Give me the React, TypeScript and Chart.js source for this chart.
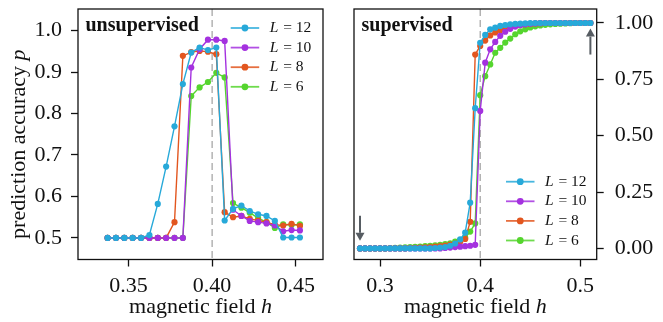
import React, { useEffect, useRef } from "react";
import { Chart, registerables } from "chart.js";
Chart.register(...registerables);

const FONT = "'Liberation Serif', 'Times New Roman', Times, serif";

// ---------- data ----------
const legendSizes = ["12", "10", "8", "6"];
const seriesColors = ["#27a9d9", "#a431df", "#e2561f", "#55d52e"];

// unsupervised panel
const unsupH = [0.3375, 0.3425, 0.3475, 0.3525, 0.3575, 0.3625, 0.3675, 0.3725, 0.3775, 0.3825, 0.3875, 0.3925,
  0.3975, 0.4025, 0.4075, 0.4125, 0.4175, 0.4225, 0.4275, 0.4325, 0.4375, 0.4425, 0.4475, 0.4525];
const unsupL12 = [0.5, 0.5, 0.5, 0.5, 0.5, 0.507, 0.582, 0.672, 0.769, 0.871, 0.947, 0.959,
  0.953, 0.959, 0.542, 0.570, 0.578, 0.565, 0.557, 0.553, 0.541, 0.501, 0.501, 0.501];
const unsupL10 = [0.5, 0.5, 0.5, 0.5, 0.5, 0.5, 0.5, 0.5, 0.5, 0.5, 0.911, 0.955,
  0.978, 0.978, 0.975, 0.568, 0.553, 0.541, 0.538, 0.535, 0.530, 0.516, 0.519, 0.518];
const unsupL8 = [0.5, 0.5, 0.5, 0.5, 0.5, 0.5, 0.5, 0.5, 0.538, 0.939, 0.948, 0.951,
  0.949, 0.943, 0.562, 0.550, 0.553, 0.546, 0.542, 0.538, 0.532, 0.530, 0.534, 0.529];
const unsupL6 = [0.5, 0.5, 0.5, 0.5, 0.5, 0.5, 0.5, 0.5, 0.5, 0.5, 0.842, 0.863,
  0.876, 0.898, 0.887, 0.584, 0.573, 0.561, 0.548, 0.538, 0.524, 0.533, 0.531, 0.533];
const unsupXTicks = [0.35, 0.4, 0.45];
const unsupYTicks = [0.5, 0.6, 0.7, 0.8, 0.9, 1.0];

// supervised panel
const supH = [0.280, 0.285, 0.290, 0.295, 0.300, 0.305, 0.310, 0.315, 0.320, 0.325, 0.330, 0.335,
  0.340, 0.345, 0.350, 0.355, 0.360, 0.365, 0.370, 0.375, 0.380, 0.385, 0.390, 0.395,
  0.400, 0.405, 0.410, 0.415, 0.420, 0.425, 0.430, 0.435, 0.440, 0.445, 0.450, 0.455,
  0.460, 0.465, 0.470, 0.475, 0.480, 0.485, 0.490, 0.495, 0.500, 0.505, 0.510];
const supL12 = [0, 0, 0, 0, 0, 0, 0, 0, 0, 0, 0, 0, 0, 0, 0,
  0.002, 0.004, 0.006, 0.012, 0.022, 0.04, 0.07, 0.203,
  0.622, 0.912, 0.947, 0.972, 0.979, 0.987, 0.991, 0.994, 0.996, 0.997, 0.998, 0.999,
  1, 1, 1, 1, 1, 1, 1, 1, 1, 1, 1, 1];
const supL10 = [0, 0, 0, 0, 0, 0, 0, 0, 0, 0, 0, 0, 0, 0, 0, 0, 0,
  0.002, 0.004, 0.006, 0.008, 0.01, 0.012, 0.016,
  0.61, 0.824, 0.883, 0.916, 0.943, 0.961, 0.974, 0.984, 0.99, 0.994, 0.997, 0.998, 0.999,
  1, 1, 1, 1, 1, 1, 1, 1, 1, 1];
const supL8 = [0, 0, 0, 0, 0, 0, 0, 0, 0, 0,
  0.002, 0.003, 0.004, 0.005, 0.006, 0.008, 0.01, 0.013, 0.017, 0.022, 0.03, 0.042, 0.118,
  0.86, 0.898, 0.922, 0.945, 0.958, 0.968, 0.976, 0.982, 0.987, 0.991, 0.994, 0.996, 0.998, 0.999,
  1, 1, 1, 1, 1, 1, 1, 1, 1, 1];
const supL6 = [0, 0, 0, 0, 0, 0,
  0.002, 0.003, 0.004, 0.005, 0.006, 0.007, 0.008, 0.01, 0.012, 0.014, 0.016, 0.019, 0.023, 0.03, 0.037, 0.048, 0.075, 0.111,
  0.68, 0.764, 0.816, 0.868, 0.89, 0.913, 0.931, 0.95, 0.963, 0.972, 0.98, 0.985, 0.989, 0.992, 0.994, 0.996, 0.997, 0.998, 0.999,
  1, 1, 1, 1];
const supXTicks = [0.3, 0.4, 0.5];
const supYTicks = [0, 0.25, 0.5, 0.75, 1.0];

const criticalH = 0.4;
const arrowH = [0.28, 0.51];
const arrowFrom = [0.145, 0.86];
const arrowTo = [0.034, 0.975];

const yTitleMain = "prediction accuracy ";
const yTitleVar = "p";
const xTitleMain = "magnetic field ";
const xTitleVar = "h";
const legendVar = "L";

// ---------- helpers ----------
function drawMixed(ctx: CanvasRenderingContext2D, x: number, y: number, main: string, v: string, size: number, center: boolean) {
  ctx.font = `${size}px ${FONT}`;
  const w1 = ctx.measureText(main).width;
  ctx.font = `italic ${size}px ${FONT}`;
  const w2 = ctx.measureText(v).width;
  const start = center ? x - (w1 + w2) / 2 : x;
  ctx.font = `${size}px ${FONT}`;
  ctx.fillText(main, start, y);
  ctx.font = `italic ${size}px ${FONT}`;
  ctx.fillText(v, start + w1, y);
}

type PanelCfg = {
  h: number[];
  series: number[][];
  xMin: number; xMax: number; yMin: number; yMax: number;
  xTicks: number[]; yTicks: number[];
  xDec: number; yDec: number;
  yPos: "left" | "right";
  width: number;
  padding: { left: number; right: number; top: number; bottom: number };
  yAxisWidth: number;
  yTickPad: number;
  label: string;
  legendFromRight: number; legendRowY: (a: any) => number;
  arrows: boolean;
  yTitle: boolean;
};

function zeroPad(s: any) {
  s.paddingTop = 0;
  s.paddingBottom = 0;
  s.paddingLeft = 0;
  s.paddingRight = 0;
}

function Panel({ cfg, left }: { cfg: PanelCfg; left: number }) {
  const ref = useRef<HTMLCanvasElement>(null);
  useEffect(() => {
    const canvas = ref.current!;
    const overlay = {
      id: "overlay",
      beforeDatasetsDraw(chart: any) {
        const ctx = chart.ctx;
        const a = chart.chartArea;
        const x = chart.scales.x.getPixelForValue(criticalH);
        ctx.save();
        ctx.strokeStyle = "#a0a0a0";
        ctx.lineWidth = 1.2;
        ctx.setLineDash([7, 4]);
        ctx.beginPath();
        ctx.moveTo(x, a.top);
        ctx.lineTo(x, a.bottom);
        ctx.stroke();
        ctx.restore();
      },
      afterDraw(chart: any) {
        const ctx = chart.ctx as CanvasRenderingContext2D;
        const a = chart.chartArea;
        ctx.save();
        // frame
        ctx.strokeStyle = "#111";
        ctx.lineWidth = 1.3;
        ctx.strokeRect(a.left, a.top, a.right - a.left, a.bottom - a.top);
        // panel label
        ctx.fillStyle = "#111";
        ctx.textBaseline = "alphabetic";
        ctx.font = `bold 20px ${FONT}`;
        ctx.fillText(cfg.label, a.left + 7.5, a.top + 22);
        // legend
        for (let i = 0; i < legendSizes.length; i++) {
          const y = cfg.legendRowY(a) + i * 19.6;
          const x0 = a.right - cfg.legendFromRight;
          ctx.strokeStyle = seriesColors[i];
          ctx.globalAlpha = 0.85;
          ctx.lineWidth = 1.8;
          ctx.beginPath();
          ctx.moveTo(x0, y);
          ctx.lineTo(x0 + 28.5, y);
          ctx.stroke();
          ctx.globalAlpha = 1;
          ctx.fillStyle = seriesColors[i];
          ctx.beginPath();
          ctx.arc(x0 + 14.25, y, 3.4, 0, Math.PI * 2);
          ctx.fill();
          ctx.fillStyle = "#111";
          ctx.textBaseline = "middle";
          ctx.font = `italic 15.5px ${FONT}`;
          ctx.fillText(legendVar, x0 + 39, y);
          const wl = ctx.measureText(legendVar).width;
          ctx.font = `15.5px ${FONT}`;
          ctx.fillText(" = " + legendSizes[i], x0 + 39 + wl + 1, y);
        }
        // x title
        ctx.fillStyle = "#111";
        ctx.textBaseline = "alphabetic";
        drawMixed(ctx, (a.left + a.right) / 2, 313, xTitleMain, xTitleVar, 22, true);
        // y title
        if (cfg.yTitle) {
          ctx.save();
          ctx.translate(25, (a.top + a.bottom) / 2 + 10);
          ctx.rotate(-Math.PI / 2);
          drawMixed(ctx, 0, 0, yTitleMain, yTitleVar, 22, true);
          ctx.restore();
        }
        // arrows
        if (cfg.arrows) {
          const xs = chart.scales.x, ys = chart.scales.y;
          ctx.strokeStyle = "#565c62";
          ctx.fillStyle = "#565c62";
          for (let i = 0; i < arrowH.length; i++) {
            const x = xs.getPixelForValue(arrowH[i]);
            const y0 = ys.getPixelForValue(arrowFrom[i]);
            const y1 = ys.getPixelForValue(arrowTo[i]);
            const dir = y1 > y0 ? 1 : -1;
            const head = 8;
            ctx.lineWidth = 2;
            ctx.beginPath();
            ctx.moveTo(x, y0);
            ctx.lineTo(x, y1 - dir * head);
            ctx.stroke();
            ctx.beginPath();
            ctx.moveTo(x, y1);
            ctx.lineTo(x - 4.5, y1 - dir * head);
            ctx.lineTo(x + 4.5, y1 - dir * head);
            ctx.closePath();
            ctx.fill();
          }
        }
        ctx.restore();
      },
    };
    const tickFont = { family: FONT, size: 22 };
    const chart = new Chart(canvas, {
      type: "line",
      data: {
        datasets: cfg.series.map((s, i) => ({
          label: "L = " + legendSizes[i],
          data: cfg.h.map((h, j) => ({ x: h, y: s[j] })),
          borderColor: seriesColors[i],
          backgroundColor: seriesColors[i],
          pointBackgroundColor: seriesColors[i],
          pointBorderColor: seriesColors[i],
          pointBorderWidth: 0,
          pointRadius: 3.1,
          borderWidth: 1.4,
          tension: 0,
          fill: false,
        })),
      },
      options: {
        responsive: false,
        animation: false,
        devicePixelRatio: 1,
        layout: { padding: cfg.padding },
        plugins: { legend: { display: false }, tooltip: { enabled: false }, title: { display: false } },
        scales: {
          x: {
            type: "linear",
            min: cfg.xMin,
            max: cfg.xMax,
            afterBuildTicks: (s: any) => { s.ticks = cfg.xTicks.map((v) => ({ value: v })); },
            afterFit: (s: any) => { s.height = 62.5; zeroPad(s); },
            ticks: { font: tickFont, color: "#111", padding: 7, maxRotation: 0, callback: (v: any) => Number(v).toFixed(cfg.xDec) },
            grid: { display: true, drawOnChartArea: false, drawTicks: true, tickLength: 7, tickColor: "#111", tickWidth: 1.3 },
            border: { display: false },
          },
          y: {
            type: "linear",
            position: cfg.yPos,
            min: cfg.yMin,
            max: cfg.yMax,
            afterBuildTicks: (s: any) => { s.ticks = cfg.yTicks.map((v) => ({ value: v })); },
            afterFit: (s: any) => { s.width = cfg.yAxisWidth; zeroPad(s); },
            ticks: { font: tickFont, color: "#111", padding: cfg.yTickPad, callback: (v: any) => Number(v).toFixed(cfg.yDec) },
            grid: { display: true, drawOnChartArea: false, drawTicks: true, tickLength: 7, tickColor: "#111", tickWidth: 1.3 },
            border: { display: false },
          },
        },
      },
      plugins: [overlay],
    } as any);
    return () => chart.destroy();
  }, []);
  return (
    <canvas
      ref={ref}
      width={cfg.width}
      height={322}
      style={{ position: "absolute", left, top: 0, width: cfg.width, height: 322 }}
    />
  );
}

const leftCfg: PanelCfg = {
  h: unsupH,
  series: [unsupL12, unsupL10, unsupL8, unsupL6],
  xMin: 0.3198, xMax: 0.4663, yMin: 0.448, yMax: 1.052,
  xTicks: unsupXTicks, yTicks: unsupYTicks, xDec: 2, yDec: 1,
  yPos: "left",
  width: 335,
  padding: { left: 0, right: 12, top: 9, bottom: 0 },
  yAxisWidth: 78,
  yTickPad: 9,
  label: "unsupervised",
  legendFromRight: 92.3,
  legendRowY: (a: any) => a.top + 19,
  arrows: false,
  yTitle: true,
};

const rightCfg: PanelCfg = {
  h: supH,
  series: [supL12, supL10, supL8, supL6],
  xMin: 0.274, xMax: 0.5163, yMin: -0.049, yMax: 1.062,
  xTicks: supXTicks, yTicks: supYTicks, xDec: 1, yDec: 2,
  yPos: "right",
  width: 323,
  padding: { left: 14, right: 0, top: 9, bottom: 0 },
  yAxisWidth: 66.3,
  yTickPad: 11,
  label: "supervised",
  legendFromRight: 90.7,
  legendRowY: (a: any) => a.bottom - 77.8,
  arrows: true,
  yTitle: false,
};

export default function App() {
  return (
    <div style={{ position: "absolute", left: 0, top: 0, width: 663, height: 322, background: "#fff", overflow: "hidden" }}>
      <Panel cfg={leftCfg} left={0} />
      <Panel cfg={rightCfg} left={340} />
    </div>
  );
}
